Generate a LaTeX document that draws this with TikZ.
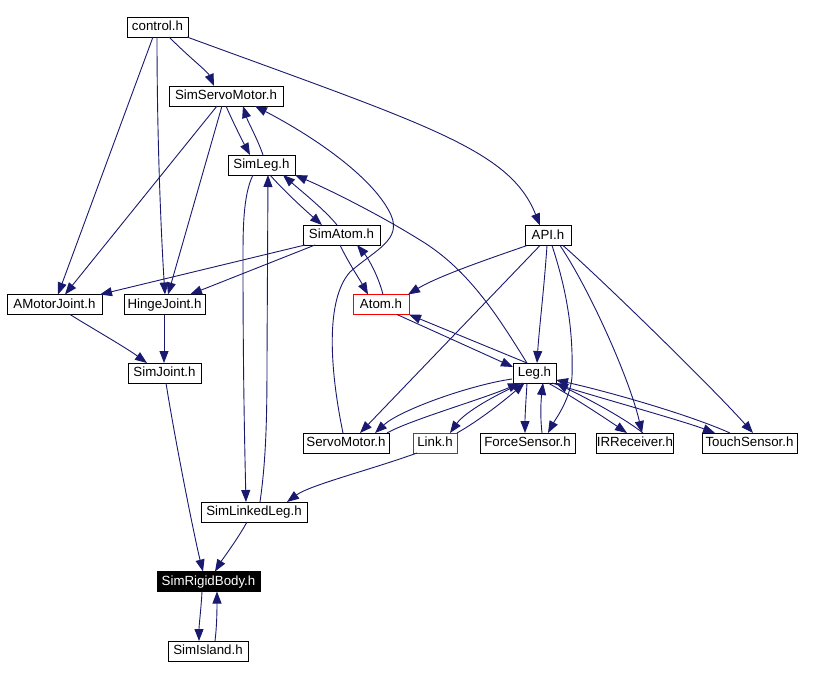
\documentclass[tikz,border=0pt]{standalone}
\usepackage{fontspec}
\setmainfont{Liberation Sans}
\usetikzlibrary{arrows.meta,calc}
\definecolor{edgeblue}{RGB}{25,25,112}
\begin{document}
\begin{tikzpicture}[x=1pt,y=-1pt,
 hfile/.style={draw=black,line width=1pt,fill=white,minimum height=20pt,inner sep=0pt,
   text height=9.5pt,text depth=2.5pt,font=\fontsize{13.3}{15}\selectfont},
 redfile/.style={hfile,draw=red},
 curfile/.style={hfile,fill=black,text=white},
 dep/.style={draw=edgeblue,line width=0.9pt,-{Triangle[length=12pt,width=9pt]}}]
\useasboundingbox[fill=white] (0,0) rectangle (820,678);
% nodes
\node[hfile,minimum width=61pt]  (control)   at (157.5,27)  {control.h};
\node[hfile,minimum width=114pt] (simservo)  at (226,96)    {SimServoMotor.h};
\node[hfile,minimum width=67pt]  (simleg)    at (261.5,165) {SimLeg.h};
\node[hfile,minimum width=77pt]  (simatom)   at (341.5,235) {SimAtom.h};
\node[hfile,minimum width=46pt]  (api)       at (548,235.5) {API.h};
\node[hfile,minimum width=95pt]  (amotor)    at (54.5,304.5) {AMotorJoint.h};
\node[hfile,minimum width=81pt]  (hinge)     at (164.5,304.5) {HingeJoint.h};
\node[redfile,minimum width=56pt] (atom)     at (381,304.5) {Atom.h};
\node[hfile,minimum width=73pt]  (simjoint)  at (164.5,373) {SimJoint.h};
\node[hfile,minimum width=43pt]  (leg)       at (534.5,373) {Leg.h};
\node[hfile,minimum width=86pt]  (servo)     at (346,443)   {ServoMotor.h};
\node[redfile,minimum width=44pt] (link)     at (435,443)   {Link.h};
\node[hfile,minimum width=95pt]  (force)     at (527.5,443) {ForceSensor.h};
\node[hfile,minimum width=76pt]  (ir)        at (635,443)   {IRReceiver.h};
\node[hfile,minimum width=95pt]  (touch)     at (749.5,443) {TouchSensor.h};
\node[hfile,minimum width=106pt] (simlinked) at (254,512)   {SimLinkedLeg.h};
\node[curfile,minimum width=103pt] (rigid)   at (208.5,581.5) {SimRigidBody.h};
\node[hfile,minimum width=80pt]  (island)    at (208,651)   {SimIsland.h};
% edges
\draw[dep] ($(control)+(11.5,10)$) .. controls (190,58) and (208,72) .. ($(simservo)+(-12,-10)$);
\draw[dep] ($(control)+(-4.5,10)$) -- ($(amotor)+(3.5,-10)$);
\draw[dep] ($(control)+(-0.5,10)$) .. controls (157,150) and (162,250) .. ($(hinge)+(0.5,-10)$);
\draw[dep] ($(control)+(29.5,10)$) .. controls (430,126) and (510,150) .. ($(api)+(-8,-10)$);
\draw[dep] ($(simservo)+(0,10)$) .. controls (232,120) and (242,140) .. ($(simleg)+(-11.5,-10)$);
\draw[dep] ($(simleg)+(1.5,-10)$) .. controls (258,140) and (248,122) .. ($(simservo)+(17,10)$);
\draw[dep] ($(simservo)+(-9,10)$) -- ($(amotor)+(10.5,-10)$);
\draw[dep] ($(simservo)+(-4,10)$) -- ($(hinge)+(3.5,-10)$);
\draw[dep] ($(servo)+(-3,-10)$) .. controls (330,370) and (325,300) .. (350,272)
   .. controls (375,250) and (402,240) .. (391,215)
   .. controls (375,180) and (320,140) .. ($(simservo)+(29,10)$);
\draw[dep] ($(simleg)+(8.5,10)$) .. controls (285,192) and (305,210) .. ($(simatom)+(-19.5,-10)$);
\draw[dep] ($(simatom)+(-4.5,-10)$) .. controls (325,210) and (300,190) .. ($(simleg)+(21.5,10)$);
\draw[dep] ($(leg)+(-7.5,-10)$) .. controls (500,320) and (470,270) .. (420,240)
   .. controls (380,215) and (330,190) .. ($(simleg)+(33.5,10)$);
\draw[dep] ($(simleg)+(-8.5,10)$) .. controls (243,195) and (243,230) .. (243,260)
   .. controls (243,380) and (245,460) .. ($(simlinked)+(-8,-10)$);
\draw[dep] ($(simlinked)+(6,-10)$) .. controls (266,460) and (267,420) .. (267,360) -- ($(simleg)+(6.5,10)$);
\draw[dep] ($(simatom)+(-36.5,10)$) -- ($(amotor)+(45.5,-10)$);
\draw[dep] ($(simatom)+(-26.5,10)$) -- ($(hinge)+(25.5,-10)$);
\draw[dep] ($(simatom)+(-1.5,10)$) .. controls (348,262) and (360,280) .. ($(atom)+(-13,-10)$);
\draw[dep] ($(atom)+(2,-10)$) .. controls (378,275) and (368,258) .. ($(simatom)+(15.5,10)$);
\draw[dep] ($(api)+(-21,10)$) .. controls (500,255) and (440,275) .. ($(atom)+(27,-10)$);
\draw[dep] ($(api)+(-8,10)$) -- ($(servo)+(14,-10)$);
\draw[dep] ($(api)+(-1,10)$) .. controls (544,290) and (539,330) .. ($(leg)+(2.5,-10)$);
\draw[dep] ($(api)+(4,10)$) .. controls (570,300) and (573,340) .. (572,377)
   .. controls (570,400) and (555,420) .. ($(force)+(20.5,-10)$);
\draw[dep] ($(api)+(12,10)$) .. controls (590,290) and (630,380) .. ($(ir)+(7,-10)$);
\draw[dep] ($(api)+(15,10)$) .. controls (600,278) and (710,385) .. ($(touch)+(3.5,-10)$);
\draw[dep] ($(atom)+(16,10)$) -- ($(leg)+(-21.5,-6)$);
\draw[dep] ($(leg)+(-7.5,-10)$) -- ($(atom)+(28,10)$);
\draw[dep] ($(amotor)+(15.5,10)$) .. controls (90,327) and (125,347) .. ($(simjoint)+(-17.5,-10)$);
\draw[dep] ($(hinge)+(-0.5,10)$) -- ($(simjoint)+(-0.5,-10)$);
\draw[dep] ($(simjoint)+(1.5,10)$) .. controls (175,440) and (195,540) .. ($(rigid)+(-5.5,-10)$);
\draw[dep] ($(simlinked)+(-7,10)$) .. controls (237,540) and (222,560) .. ($(rigid)+(6.5,-10)$);
\draw[dep] ($(rigid)+(-6.5,10)$) .. controls (201,610) and (199,625) .. ($(island)+(-9,-10)$);
\draw[dep] ($(island)+(7,-10)$) .. controls (217,625) and (217,607) .. ($(rigid)+(8.5,10)$);
\draw[dep] ($(link)+(-18,10)$) .. controls (370,470) and (310,485) .. ($(simlinked)+(33,-10)$);
\draw[dep] ($(leg)+(-22.5,6)$) .. controls (470,385) and (400,410) .. ($(servo)+(29,-10)$);
\draw[dep] ($(servo)+(41,-10)$) .. controls (410,420) and (480,400) .. ($(leg)+(-14.5,10)$);
\draw[dep] ($(leg)+(-12,10)$) .. controls (495,395) and (465,412) .. ($(link)+(15,-10)$);
\draw[dep] ($(link)+(22,-10)$) .. controls (480,420) and (505,400) .. ($(leg)+(-10,10)$);
\draw[dep] ($(leg)+(-7.5,10)$) .. controls (526,400) and (525,415) .. ($(force)+(-2.5,-10)$);
\draw[dep] ($(force)+(14.5,-10)$) .. controls (540,415) and (541,400) .. ($(leg)+(8.5,10)$);
\draw[dep] ($(leg)+(13.5,10)$) .. controls (570,395) and (605,418) .. ($(ir)+(-8,-10)$);
\draw[dep] ($(ir)+(8,-10)$) .. controls (620,415) and (580,395) .. ($(leg)+(21.5,10)$);
\draw[dep] ($(leg)+(17.5,10)$) .. controls (600,398) and (680,420) .. ($(touch)+(-34.5,-10)$);
\draw[dep] ($(touch)+(-19.5,-10)$) .. controls (690,415) and (610,392) .. ($(leg)+(21.5,7)$);
\end{tikzpicture}
\end{document}
